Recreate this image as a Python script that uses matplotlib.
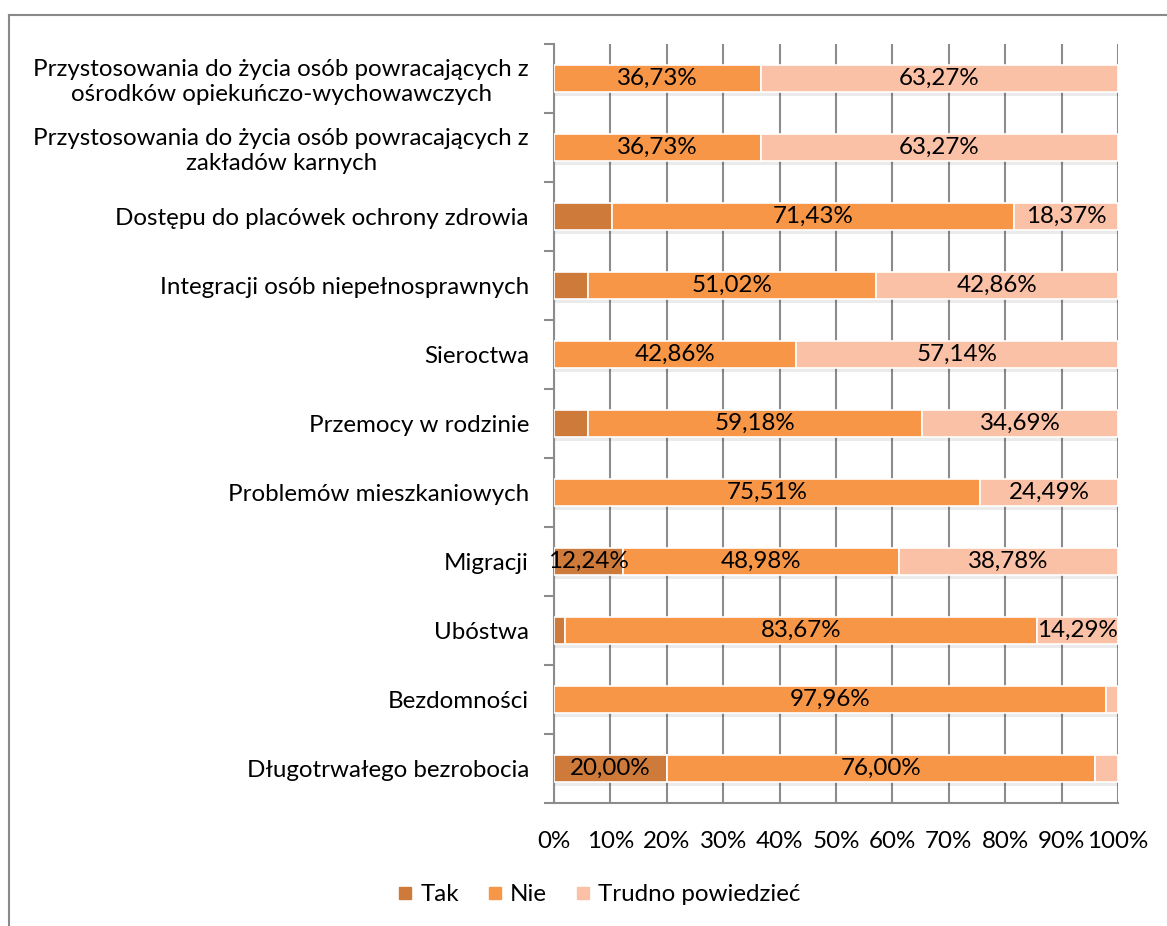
import matplotlib.pyplot as plt
import matplotlib.patheffects as pe
from matplotlib.lines import Line2D
import numpy as np

plt.rcParams['font.family'] = ['Lato', 'DejaVu Sans']

# categories listed bottom -> top
categories = [
    "Długotrwałego bezrobocia",
    "Bezdomności",
    "Ubóstwa",
    "Migracji",
    "Problemów mieszkaniowych",
    "Przemocy w rodzinie",
    "Sieroctwa",
    "Integracji osób niepełnosprawnych",
    "Dostępu do placówek ochrony zdrowia",
    "Przystosowania do życia osób powracających z\nzakładów karnych",
    "Przystosowania do życia osób powracających z\nośrodków opiekuńczo-wychowawczych",
]
tak = [20.00, 0.0, 2.04, 12.24, 0.0, 6.12, 0.0, 6.12, 10.20, 0.0, 0.0]
nie = [76.00, 97.96, 83.67, 48.98, 75.51, 59.18, 42.86, 51.02, 71.43, 36.73, 36.73]
trudno = [4.00, 2.04, 14.29, 38.78, 24.49, 34.69, 57.14, 42.86, 18.37, 63.27, 63.27]

series = [("Tak", tak, "#CD7A3A"), ("Nie", nie, "#F79646"), ("Trudno powiedzieć", trudno, "#FAC1A6")]

fig = plt.figure(figsize=(11.67, 9.26), dpi=100)
ax = fig.add_axes([0.4747, 0.1328, 0.4833, 0.8197])

y = np.arange(len(categories))
left = np.zeros(len(categories))
grid_col = "#8C8C8C"
fs = 17.4

shadow = [pe.SimplePatchShadow(offset=(1, -3), shadow_rgbFace="#000000", alpha=0.08), pe.Normal()]

for name, vals, col in series:
    vals = np.array(vals)
    bars = ax.barh(y, vals, left=left, height=0.4, color=col, edgecolor="white",
                   linewidth=1.2, label=name, zorder=3)
    for b in bars:
        b.set_path_effects(shadow)
    for yi, v, l in zip(y, vals, left):
        if v >= 11:
            ax.text(l + v / 2, yi, f"{v:.2f}%".replace(".", ","), ha="center", va="center",
                    fontsize=fs, color="black", zorder=5)
    left = left + vals

ax.set_xlim(0, 100)
ax.set_ylim(-0.5, len(categories) - 0.5)
ax.set_xticks(np.arange(0, 101, 10))
ax.set_xticklabels([f"{t}%" for t in range(0, 101, 10)], fontsize=fs)
ax.set_yticks(y)
ax.set_yticklabels(categories, fontsize=fs, multialignment="center")
ax.tick_params(axis="y", length=0, pad=18)
ax.tick_params(axis="x", length=0, pad=20)

# gridlines and tick marks
for t in range(0, 101, 10):
    ax.axvline(t, color=grid_col, linewidth=1.5, zorder=1)
ax.set_yticks(np.arange(-0.5, len(categories), 1), minor=True)
ax.tick_params(axis="y", which="minor", length=7, width=1.5, color=grid_col, direction="out")
ax.set_xticks(np.arange(0, 101, 10), minor=True)
ax.tick_params(axis="x", which="minor", length=9, width=1.5, color=grid_col, direction="out")

for s in ["top", "right"]:
    ax.spines[s].set_visible(False)
for s in ["left", "bottom"]:
    ax.spines[s].set_color(grid_col)
    ax.spines[s].set_linewidth(1.5)

handles = [Line2D([], [], marker="s", linestyle="", markersize=8.6, color=c) for _, _, c in series]
fig.legend(handles, [n for n, _, _ in series], loc="center", bbox_to_anchor=(0.513, 0.034),
           ncol=3, frameon=False, fontsize=fs, handletextpad=0.27, columnspacing=1.15,
           handlelength=0.7)

# outer chart frame (top and left edges visible)
fig.add_artist(Line2D([0.008, 1.0], [0.984, 0.984], color="#898989", linewidth=1.5, transform=fig.transFigure))
fig.add_artist(Line2D([0.008, 0.008], [0.0, 0.984], color="#898989", linewidth=1.5, transform=fig.transFigure))

fig.savefig("out.png", dpi=100)
